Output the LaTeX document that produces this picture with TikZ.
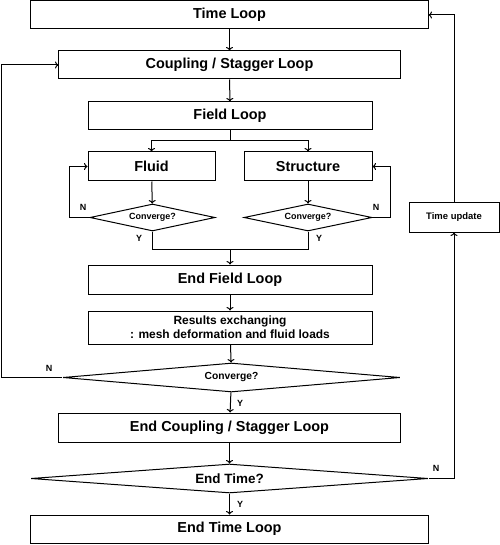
\documentclass[tikz,border=0pt]{standalone}
\usepackage{fontspec}
\setmainfont{Liberation Sans}
\usetikzlibrary{shapes.geometric,arrows.meta}

\begin{document}
\begin{tikzpicture}[x=1bp,y=-1bp,
  box/.style={draw, line width=1bp, inner sep=0pt, minimum height=28bp, font=\bfseries\fontsize{14.5}{17}\selectfont},
  decide/.style={draw, diamond, aspect=8, inner sep=0pt, line width=1bp},
  flow/.style={line width=1bp, -{To[length=3.5bp,width=7bp]}},
  yn/.style={font=\bfseries\fontsize{9}{10}\selectfont}]
\useasboundingbox (0,0) rectangle (500,545);
%main column
\node[box, minimum width=397bp] (tloop) at (229.5,15) {Time Loop};
\node[box, minimum width=341bp] (cloop) at (229.5,65) {Coupling / Stagger Loop};
\node[box, minimum width=284bp] (floop) at (230,116) {Field Loop};
\node[box, minimum width=127bp, minimum height=29bp] (fluid) at (151.5,166.5) {Fluid};
\node[box, minimum width=128bp, minimum height=29bp] (struct) at (308,166.5) {Structure};
\node[decide, minimum width=125bp, minimum height=27bp, font=\bfseries\fontsize{9}{10}\selectfont] (conv1) at (152.5,217.5) {Converge?};
\node[decide, minimum width=128bp, minimum height=27bp, font=\bfseries\fontsize{9}{10}\selectfont] (conv2) at (308,217.5) {Converge?};
\node[box, minimum width=284bp, minimum height=29bp] (efloop) at (230,279.5) {End Field Loop};
\node[box, minimum width=284bp, minimum height=33bp, align=center, font=\bfseries\fontsize{12}{14}\selectfont] (results) at (230,327.5) {Results exchanging\\: mesh deformation and fluid loads};
\node[decide, minimum width=337bp, minimum height=29bp, font=\bfseries\fontsize{10.3}{12}\selectfont] (conv3) at (231.5,377.5) {Converge?};
\node[box, minimum width=341bp, minimum height=29bp] (ecloop) at (229.5,427.5) {End Coupling / Stagger Loop};
\node[decide, minimum width=397bp, minimum height=29bp, font=\bfseries\fontsize{13.5}{15}\selectfont] (etime) at (229.5,478.5) {End Time?};
\node[box, minimum width=397bp] (etloop) at (229.5,529) {End Time Loop};
\node[box, minimum width=90bp, minimum height=29bp, font=\bfseries\fontsize{9.5}{11}\selectfont] (tupdate) at (454,217.5) {Time update};
\coordinate (split) at (230,141);
\coordinate (join) at (230,249);
%arrows
\draw[flow] (tloop) -- (cloop);
\draw[flow] (cloop) -- (floop);
\draw[line width=1bp] (floop) -- (split);
\draw[flow] (split) -| (fluid);
\draw[flow] (split) -| (struct);
\draw[flow] (fluid) -- (conv1);
\draw[flow] (struct) -- (conv2);
\draw[flow] (conv1.west) -- ++(-20,0) |- (fluid.west);
\draw[flow] (conv2.east) -- ++(18,0) |- (struct.east);
\draw[line width=1bp] (conv1.south) |- (join);
\draw[line width=1bp] (conv2.south) |- (join);
\draw[flow] (join) -- (efloop);
\draw[flow] (efloop) -- (results);
\draw[flow] (results) -- (conv3);
\draw[flow] (conv3.west) -- ++(-61,0) |- (cloop.west);
\draw[flow] (conv3) -- (ecloop);
\draw[flow] (ecloop) -- (etime);
\draw[flow] (etime.east) -| (tupdate.south);
\draw[flow] (tupdate.north) |- (tloop.east);
\draw[flow] (etime) -- (etloop);
%labels
\node[yn] (n1) at (83,207) {N};
\node[yn] (n2) at (376,207) {N};
\node[yn] (y1) at (139,238) {Y};
\node[yn] (y2) at (319,238) {Y};
\node[yn] (n3) at (49,368) {N};
\node[yn] (y3) at (240,403) {Y};
\node[yn] (n4) at (436,468) {N};
\node[yn] (y4) at (240,504) {Y};
\end{tikzpicture}
\end{document}
